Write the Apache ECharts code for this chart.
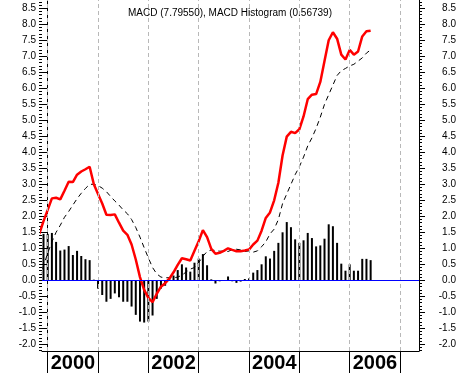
<!DOCTYPE html>
<html><head><meta charset="utf-8">
<script src="https://cdn.jsdelivr.net/npm/echarts@6/dist/echarts.min.js"></script>
<style>html,body{margin:0;padding:0;background:#fff}#c{width:460px;height:373px}</style>
</head><body><div id="c"></div>
<script>
// month index 0 = Jan 2000; first entry is Nov 1999 (-2)
const startMonth = -2;
const macd = [1.45,1.85,2.2,2.56,2.58,2.53,2.8,3.08,3.07,3.3,3.4,3.47,3.55,3.0,2.7,2.4,2.05,2.04,2.06,1.8,1.55,1.42,1.12,0.65,0.1,-0.3,-0.55,-0.68,-0.42,-0.2,-0.09,0.05,0.25,0.48,0.69,0.66,0.62,0.92,1.22,1.57,1.35,0.98,0.83,0.86,0.92,1.0,0.95,0.91,0.91,0.93,0.96,1.12,1.24,1.55,1.95,2.12,2.5,3.05,3.9,4.49,4.64,4.6,4.72,5.12,5.66,5.8,5.82,6.2,6.85,7.5,7.75,7.55,7.05,6.9,7.2,7.05,7.15,7.62,7.78,7.8];
const signal = [0.1,0.45,0.85,1.2,1.5,1.72,1.97,2.15,2.35,2.55,2.72,2.87,3.0,3.0,2.96,2.88,2.77,2.62,2.48,2.35,2.2,2.08,1.9,1.65,1.35,1.02,0.7,0.4,0.2,0.1,0.08,0.08,0.08,0.1,0.16,0.26,0.35,0.4,0.55,0.75,0.9,0.95,0.93,0.91,0.91,0.9,0.96,0.97,0.95,0.9,0.92,0.88,0.92,1.05,1.2,1.45,1.6,1.9,2.4,2.7,3.0,3.3,3.55,3.85,4.2,4.45,4.75,5.1,5.5,5.8,6.1,6.4,6.55,6.62,6.7,6.75,6.85,6.95,7.1,7.2];
const hist = [null,1.45,1.45,1.48,1.2,0.93,0.96,1.07,0.79,0.92,0.76,0.66,0.63,0.02,-0.26,-0.46,-0.67,-0.58,-0.41,-0.53,-0.67,-0.67,-0.82,-1.08,-1.29,-1.32,-1.29,-1.1,-0.58,-0.26,-0.17,0.05,0.15,0.32,0.5,0.4,0.27,0.55,0.68,0.82,0.47,0.03,-0.1,-0.03,-0.02,0.12,-0.03,-0.08,-0.04,0.04,0.06,0.24,0.32,0.5,0.75,0.68,0.92,1.17,1.5,1.82,1.66,1.28,1.17,1.25,1.48,1.32,1.06,1.09,1.3,1.75,1.69,1.17,0.52,0.3,0.5,0.3,0.3,0.67,0.67,0.63];
const yearTicks = [2000,2001,2002,2003,2004,2005,2006,2007];
const yearLabels = [2000,2002,2004,2006];
const yTickLabels = [-2.0,-1.5,-1.0,-0.5,0.0,0.5,1.0,1.5,2.0,2.5,3.0,3.5,4.0,4.5,5.0,5.5,6.0,6.5,7.0,7.5,8.0,8.5];
const titleText = 'MACD (7.79550), MACD Histogram (0.56739)';

const Y_MIN = -2.209, Y_MAX = 8.759;
const X_MIN = -1.359, X_MAX = 88.53;
const minorTicks = [];
for (let k = -22; k <= 87; k++) minorTicks.push(k / 10);
const toM = y => (y - 2000) * 12;
const pts = arr => arr.map((v, i) => [startMonth + i, v]);
const FONT = "'Liberation Sans', Arial, sans-serif";

const yAx = (pos, major) => ({
  type: 'value', position: pos, min: Y_MIN, max: Y_MAX,
  axisLine: { show: major, lineStyle: { color: '#000', width: 1 } },
  axisTick: { show: true, inside: false, length: major ? 6 : 3, customValues: major ? yTickLabels : minorTicks, lineStyle: { color: '#000', width: 1 } },
  axisLabel: major ? {
    show: true, customValues: yTickLabels, formatter: v => Number(v).toFixed(1),
    color: '#000', fontSize: 10, fontFamily: FONT,
    margin: pos === 'left' ? 6 : 37, align: 'right'
  } : { show: false },
  splitLine: { show: false }
});

const chart = echarts.init(document.getElementById('c'), null, { renderer: 'canvas' });
chart.setOption({
  animation: false,
  backgroundColor: '#fff',
  title: { text: titleText, left: 'center', top: 3, textStyle: { fontSize: 10, fontWeight: 'normal', color: '#000', fontFamily: FONT } },
  grid: { left: 42, right: 41, top: 0, bottom: 22, containLabel: false },
  xAxis: [{
    type: 'value', min: X_MIN, max: X_MAX, position: 'bottom',
    axisLine: { show: true, onZero: false, lineStyle: { color: '#000', width: 1 } },
    axisTick: { show: true, length: 22, customValues: yearTicks.map(toM), lineStyle: { color: '#000', width: 1 } },
    axisLabel: {
      show: true, customValues: yearLabels.map(toM), formatter: v => String(Math.round(2000 + v / 12)),
      align: 'left', padding: [0, 0, 0, 3], margin: 2,
      color: '#000', fontSize: 20, fontWeight: 'bold', fontFamily: FONT
    },
    splitLine: { show: false }
  }],
  yAxis: [yAx('left', true), yAx('left', false), yAx('right', true), yAx('right', false)],
  series: [
    {
      type: 'bar', data: pts(hist), barWidth: 2, itemStyle: { color: '#000' }, z: 2,
      markLine: {
        silent: true, symbol: ['none', 'none'], label: { show: false },
        data: yearTicks.map(y => ({ xAxis: toM(y), lineStyle: { color: '#b8b8b8', width: 1, type: [4, 3] } }))
          .concat([{ yAxis: 0, lineStyle: { color: '#0000ff', width: 1, type: 'solid' } }])
      }
    },
    {
      type: 'line', data: pts(signal), showSymbol: false, symbol: 'none', z: 3,
      lineStyle: { color: '#000', width: 1, type: [5, 4] }
    },
    {
      type: 'line', data: pts(macd), showSymbol: false, symbol: 'none', z: 4,
      lineStyle: { color: '#ff0000', width: 2.5 }
    }
  ]
});
</script></body></html>
